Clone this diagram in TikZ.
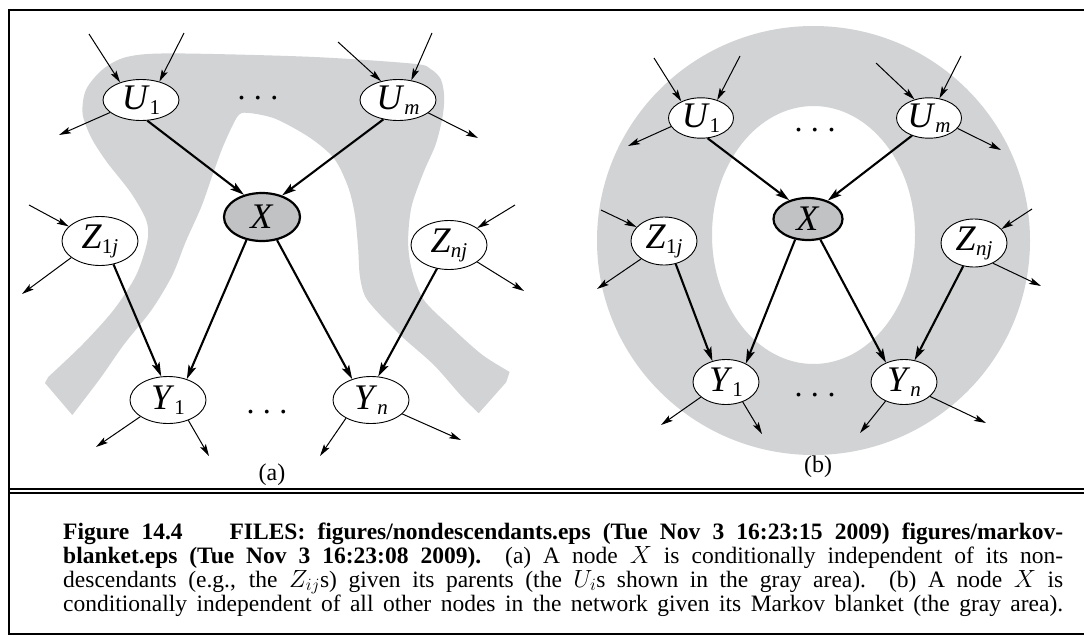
\documentclass[tikz,border=0pt]{standalone}
\usepackage{fontspec}
\setmainfont{Liberation Serif}
\usetikzlibrary{arrows.meta,shapes.geometric}
\definecolor{blob}{RGB}{209,211,212}
\definecolor{xfill}{RGB}{192,194,196}
\newcommand{\nodelab}[2]{\textit{#1}\raisebox{-5pt}{\fontsize{21}{21}\selectfont #2}}
\begin{document}
\begin{tikzpicture}[x=1pt,y=-1pt,
  vnode/.style={ellipse, draw, line width=0.9pt, fill=white, inner sep=0pt, font=\fontsize{36}{36}\selectfont},
  ua/.style={vnode, minimum width=76pt, minimum height=41pt},
  xa/.style={vnode, minimum width=76pt, minimum height=48pt, fill=xfill, line width=2.2pt},
  za/.style={vnode, minimum width=76pt, minimum height=49pt},
  ya/.style={vnode, minimum width=76pt, minimum height=47pt},
  ub/.style={vnode, minimum width=65pt, minimum height=40pt},
  xb/.style={vnode, minimum width=69pt, minimum height=42pt, fill=xfill, line width=2.2pt},
  zb/.style={vnode, minimum width=66pt, minimum height=48pt},
  yb/.style={vnode, minimum width=66pt, minimum height=45pt},
  tarr/.style={-{Stealth[length=12pt,width=6.5pt,inset=2.5pt]}, line width=1pt},
  karr/.style={-{Stealth[length=14pt,width=8pt,inset=3pt]}, line width=2.1pt},
  dotrow/.style={anchor=base, inner sep=0pt, font=\fontsize{32}{32}\selectfont},
  sublab/.style={inner sep=0pt, font=\fontsize{24}{24}\selectfont},
  capline/.style={anchor=base west, inner sep=0pt, font=\fontsize{23.5}{24}\selectfont},
  frame/.style={line width=2pt}
]
\useasboundingbox (0,0) rectangle (1084,635);
\fill[white] (0,0) rectangle (1084,635);

% ---------- gray region (a)
\fill[blob] plot[smooth, tension=0.5] coordinates {
 (48.2,377) (82.6,344.4) (113.6,310) (136,275.5) (147.4,241) (146.3,220.4)
 (130.9,192.8) (106.7,161.8) (91.3,137.7) (82.6,113.6) (86.1,89.5) (103.3,68.9)
 (127.4,56.8) (172.2,53.4) (309.9,56.8) (413.2,63.7) (430.4,68.9) (440.8,79.2)
 (444.2,96.4) (442.5,117.1) (435.6,144.6) (423.6,172.2) (411.5,206.6) (408.1,241)
 (411.5,268.6) (423.6,299.6) (451.1,327.1) (482.1,354.7) (509.6,371.9)}
 -- (506.2,382.2) -- (478.7,413.2)
 -- plot[smooth, tension=0.5] coordinates {
 (478.7,413.2) (461.4,396) (433.9,365) (402.9,337.5) (378.8,313.4) (365,296.1)
 (359.8,275.5) (358.1,247.9) (354.7,213.5) (347.8,186) (334,158.4) (309.9,137.7)
 (275.5,118.8) (247.9,112.9) (237.6,116.4) (223.8,144.6) (213.5,172.2) (201.4,206.6)
 (186,241) (172.2,275.5) (151.5,310) (124,344.4) (99.9,378.8) (72.3,415)}
 -- (45,383) -- cycle;

% ---------- gray ring (b)
\fill[blob, even odd rule] (813.5,240.5) ellipse [x radius=216.5, y radius=214.5]
  (813.5,235) ellipse [x radius=101.5, y radius=129];

% ---------- frame
\draw[frame] (1084,10.3) -- (9,10.3) -- (9,633.5) -- (1084,633.5);
\draw[line width=2.3pt] (9,489) -- (1084,489);
\draw[line width=2.3pt] (9,493) -- (1084,493);

% ---------- panel (a) nodes
\node[ua] (aU1) at (141,100) {\nodelab{U}{1}};
\node[ua] (aUm) at (398,100) {\nodelab{U}{\textit{m}}};
\node[xa] (aX) at (262,217) {\textit{X}};
\node[za] (aZ1) at (100,241) {\nodelab{Z}{1\textit{j}}};
\node[za] (aZn) at (449,245) {\nodelab{Z}{\textit{nj}}};
\node[ya] (aY1) at (168,400) {\nodelab{Y}{1}};
\node[ya] (aYn) at (371,400) {\nodelab{Y}{\textit{n}}};
\node[dotrow] (aDots1) at (258,99.6) {.\hspace{8.5pt}.\hspace{8.5pt}.};
\node[dotrow] (aDots2) at (267,413) {.\hspace{8.5pt}.\hspace{8.5pt}.};
\node[sublab] (aLab) at (272,475) {(a)};

\coordinate (aU1i1) at (89,34);
\coordinate (aU1i2) at (184,33);
\coordinate (aU1o) at (59,135);
\coordinate (aUmi1) at (338,42);
\coordinate (aUmi2) at (432,33);
\coordinate (aUmo) at (478,138);
\coordinate (aZ1i) at (29,205);
\coordinate (aZ1o) at (22,294);
\coordinate (aZni) at (515,205);
\coordinate (aZno) at (524,291);
\coordinate (aY1o1) at (96,447);
\coordinate (aY1o2) at (209,456);
\coordinate (aYno1) at (320,456);
\coordinate (aYno2) at (461,440);

\draw[tarr] (aU1i1) -- (aU1.140.6);
\draw[tarr] (aU1i2) -- (aU1.45);
\draw[tarr] (aU1.202) -- (aU1o);
\draw[karr] (aU1.287) -- (aX.129);
\draw[tarr] (aUmi1) -- (aUm.132.5);
\draw[tarr] (aUmi2) -- (aUm.56.8);
\draw[tarr] (aUm.337.6) -- (aUmo);
\draw[karr] (aUm.233) -- (aX.47.7);
\draw[tarr] (aZ1i) -- (aZ1.155);
\draw[tarr] (aZ1.210) -- (aZ1o);
\draw[karr] (aZ1.300.6) -- (aY1.106.7);
\draw[tarr] (aZni) -- (aZn.31.5);
\draw[tarr] (aZn.329) -- (aZno);
\draw[karr] (aZn.243.4) -- (aYn.73.3);
\draw[karr] (aX.236.3) -- (aY1.48.2);
\draw[karr] (aX.303.7) -- (aYn.132.9);
\draw[tarr] (aY1.211) -- (aY1o1);
\draw[tarr] (aY1.315) -- (aY1o2);
\draw[tarr] (aYn.216.5) -- (aYno1);
\draw[tarr] (aYn.336.6) -- (aYno2);

% ---------- panel (b) nodes
\node[ub] (bU1) at (701,118) {\nodelab{U}{1}};
\node[ub] (bUm) at (929,118) {\nodelab{U}{\textit{m}}};
\node[xb] (bX) at (808,219) {\textit{X}};
\node[zb] (bZ1) at (664,241) {\nodelab{Z}{1\textit{j}}};
\node[zb] (bZn) at (974,243) {\nodelab{Z}{\textit{nj}}};
\node[yb] (bY1) at (726,382) {\nodelab{Y}{1}};
\node[yb] (bYn) at (904,382) {\nodelab{Y}{\textit{n}}};
\node[dotrow] (bDots1) at (815,131.5) {.\hspace{8.5pt}.\hspace{8.5pt}.};
\node[dotrow] (bDots2) at (815,396) {.\hspace{8.5pt}.\hspace{8.5pt}.};
\node[sublab] (bLab) at (818,467) {(b)};

\coordinate (bU1i1) at (654,58);
\coordinate (bU1i2) at (740,56);
\coordinate (bU1o) at (628,146);
\coordinate (bUmi1) at (876,63);
\coordinate (bUmi2) at (961,56);
\coordinate (bUmo) at (1001,150);
\coordinate (bZ1i) at (601,210);
\coordinate (bZ1o) at (597,289);
\coordinate (bZni) at (1032,209);
\coordinate (bZno) at (1041,286);
\coordinate (bY1o1) at (661,425);
\coordinate (bY1o2) at (762,434);
\coordinate (bYno1) at (860,433);
\coordinate (bYno2) at (986,423);

\draw[tarr] (bU1i1) -- (bU1.140.4);
\draw[tarr] (bU1i2) -- (bU1.48.8);
\draw[tarr] (bU1.196) -- (bU1o);
\draw[karr] (bU1.288.4) -- (bX.135);
\draw[tarr] (bUmi1) -- (bUm.128.4);
\draw[tarr] (bUmi2) -- (bUm.62.5);
\draw[tarr] (bUm.340.5) -- (bUmo);
\draw[karr] (bUm.226.5) -- (bX.43.7);
\draw[tarr] (bZ1i) -- (bZ1.153.4);
\draw[tarr] (bZ1.218.7) -- (bZ1o);
\draw[karr] (bZ1.297.6) -- (bY1.123.7);
\draw[tarr] (bZni) -- (bZn.27.3);
\draw[tarr] (bZn.313.4) -- (bZno);
\draw[karr] (bZn.245.4) -- (bYn.64.4);
\draw[karr] (bX.238.7) -- (bY1.43.7);
\draw[karr] (bX.301.3) -- (bYn.133.7);
\draw[tarr] (bY1.211.6) -- (bY1o1);
\draw[tarr] (bY1.310.6) -- (bY1o2);
\draw[tarr] (bYn.226.5) -- (bYno1);
\draw[tarr] (bYn.331.1) -- (bYno2);

% ---------- caption
\node[capline] (cap1) at (63,539) {\makebox[1000pt][s]{\textbf{Figure 14.4}\hspace{2em}\textbf{FILES: figures/nondescendants.eps (Tue Nov 3 16:23:15 2009) figures/markov-}}};
\node[capline] (cap2) at (63,563) {\makebox[1000pt][s]{\textbf{blanket.eps (Tue Nov 3 16:23:08 2009).}\ \ (a) A node $X$ is conditionally independent of its non-}};
\node[capline] (cap3) at (63,587) {\makebox[1000pt][s]{descendants (e.g., the $Z_{ij}$s) given its parents (the $U_i$s shown in the gray area).\ \ (b) A node $X$ is}};
\node[capline] (cap4) at (63,611) {\makebox[1000pt][s]{conditionally independent of all other nodes in the network given its Markov blanket (the gray area).}};
\end{tikzpicture}
\end{document}
